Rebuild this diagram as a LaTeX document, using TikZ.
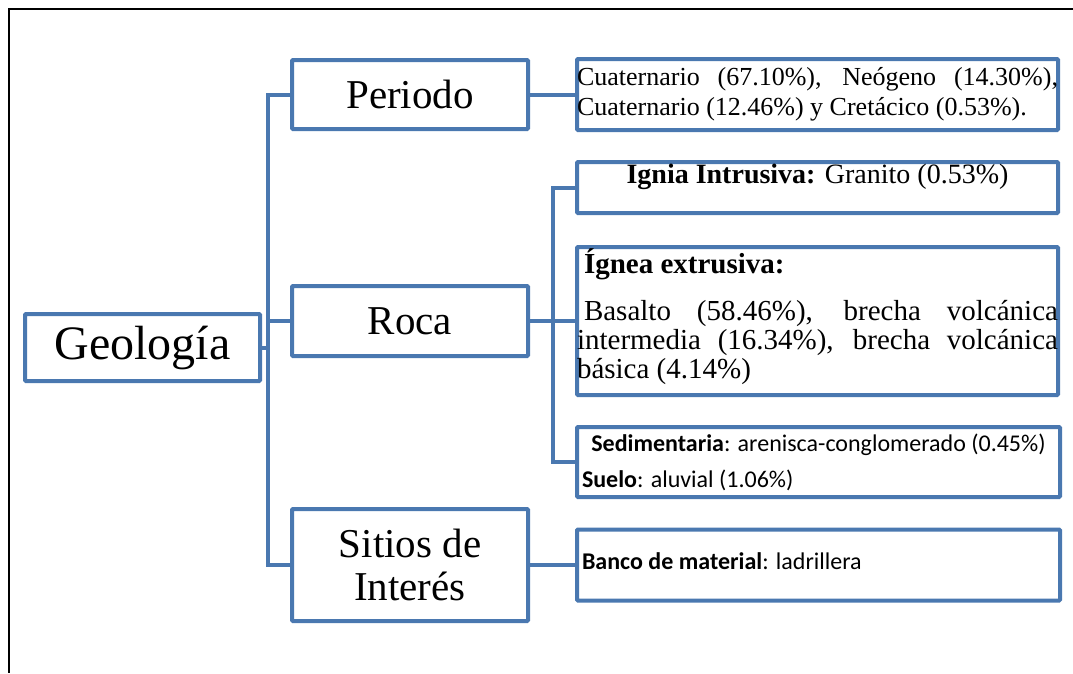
\documentclass[tikz,border=0pt]{standalone}
\usepackage{fontspec}
\setmainfont{Liberation Serif}
\newfontfamily\calibri{Carlito}
\definecolor{azulgeo}{RGB}{74,120,176}
\tolerance=10000
\hbadness=10000
\hyphenpenalty=10000

\begin{document}
\begin{tikzpicture}[x=1pt,y=-1pt]
    \tikzstyle{every node}+=[inner sep=0pt]
    \tikzstyle{caja}=[draw=azulgeo, line width=4pt, rounded corners=1pt, fill=white]
    \tikzstyle{enlace}=[draw=azulgeo, line width=4pt]
    \useasboundingbox (0,0) rectangle (1073,673);
    \draw [black, line width=2pt] (1073,9) -- (9,9) -- (9,673);
    \node [caja, minimum width=235pt, minimum height=67pt] (geo) at (142.5,347.5) {\fontsize{48}{52}\selectfont Geología};
    \node [caja, minimum width=236pt, minimum height=69pt] (periodo) at (410,94.5) {\fontsize{41}{43}\selectfont Periodo};
    \node [caja, minimum width=236pt, minimum height=70pt] (roca) at (410,321) {\fontsize{41}{43}\selectfont Roca};
    \node [caja, minimum width=236pt, minimum height=112pt, align=center, font=\fontsize{41}{43}\selectfont] (sitios) at (410,565) {Sitios de\\Interés};
    \node [caja] (cronos) at (817.5,94.5) {\parbox[c][71pt][t]{481pt}{\fontsize{26}{30}\selectfont\rule{0pt}{26pt}Cuaternario (67.10\%), Neógeno (14.30\%),\linebreak Cuaternario (12.46\%) y Cretácico (0.53\%).}};
    \node [caja] (intrusiva) at (817.5,187.5) {\parbox[c][51pt][t]{481pt}{\centering\fontsize{28}{30}\selectfont\rule{0pt}{21pt}\textbf{Ignia Intrusiva:} Granito (0.53\%)}};
    \node [caja] (extrusiva) at (817.5,321) {\parbox[c][148pt][t]{481pt}{\fontsize{29}{29}\selectfont\rule{0pt}{26pt}\hspace*{7pt}\textbf{Ígnea extrusiva:}\par\vspace{18pt}\hspace*{7pt}Basalto (58.46\%), brecha volcánica\linebreak intermedia (16.34\%), brecha volcánica\linebreak básica (4.14\%)}};
    \node [caja] (sedimentaria) at (818.5,462) {\parbox[c][70pt][t]{483pt}{\calibri\fontsize{24}{36}\selectfont\rule{0pt}{24pt}\makebox[\linewidth]{\textbf{Sedimentaria}: arenisca-conglomerado (0.45\%)}\par\hspace*{5pt}\textbf{Suelo}: aluvial (1.06\%)}};
    \node [caja] (banco) at (818.5,565) {\parbox[c][71pt][t]{483pt}{\calibri\fontsize{24}{28}\selectfont\rule{0pt}{40pt}\hspace*{5pt}\textbf{Banco de material}: ladrillera}};
    \coordinate (tronco) at (268,0);
    \coordinate (rama) at (553,0);
    \draw [enlace] (periodo.west) -- (periodo.west -| tronco) -- (sitios.west -| tronco) -- (sitios.west);
    \draw [enlace] (geo.east) -- (geo.east -| tronco);
    \draw [enlace] (roca.west) -- (roca.west -| tronco);
    \draw [enlace] (periodo.east) -- (cronos.west);
    \draw [enlace] (intrusiva.west) -- (intrusiva.west -| rama) -- (sedimentaria.west -| rama) -- (sedimentaria.west);
    \draw [enlace] (roca.east) -- (extrusiva.west);
    \draw [enlace] (sitios.east) -- (banco.west);
\end{tikzpicture}
\end{document}
